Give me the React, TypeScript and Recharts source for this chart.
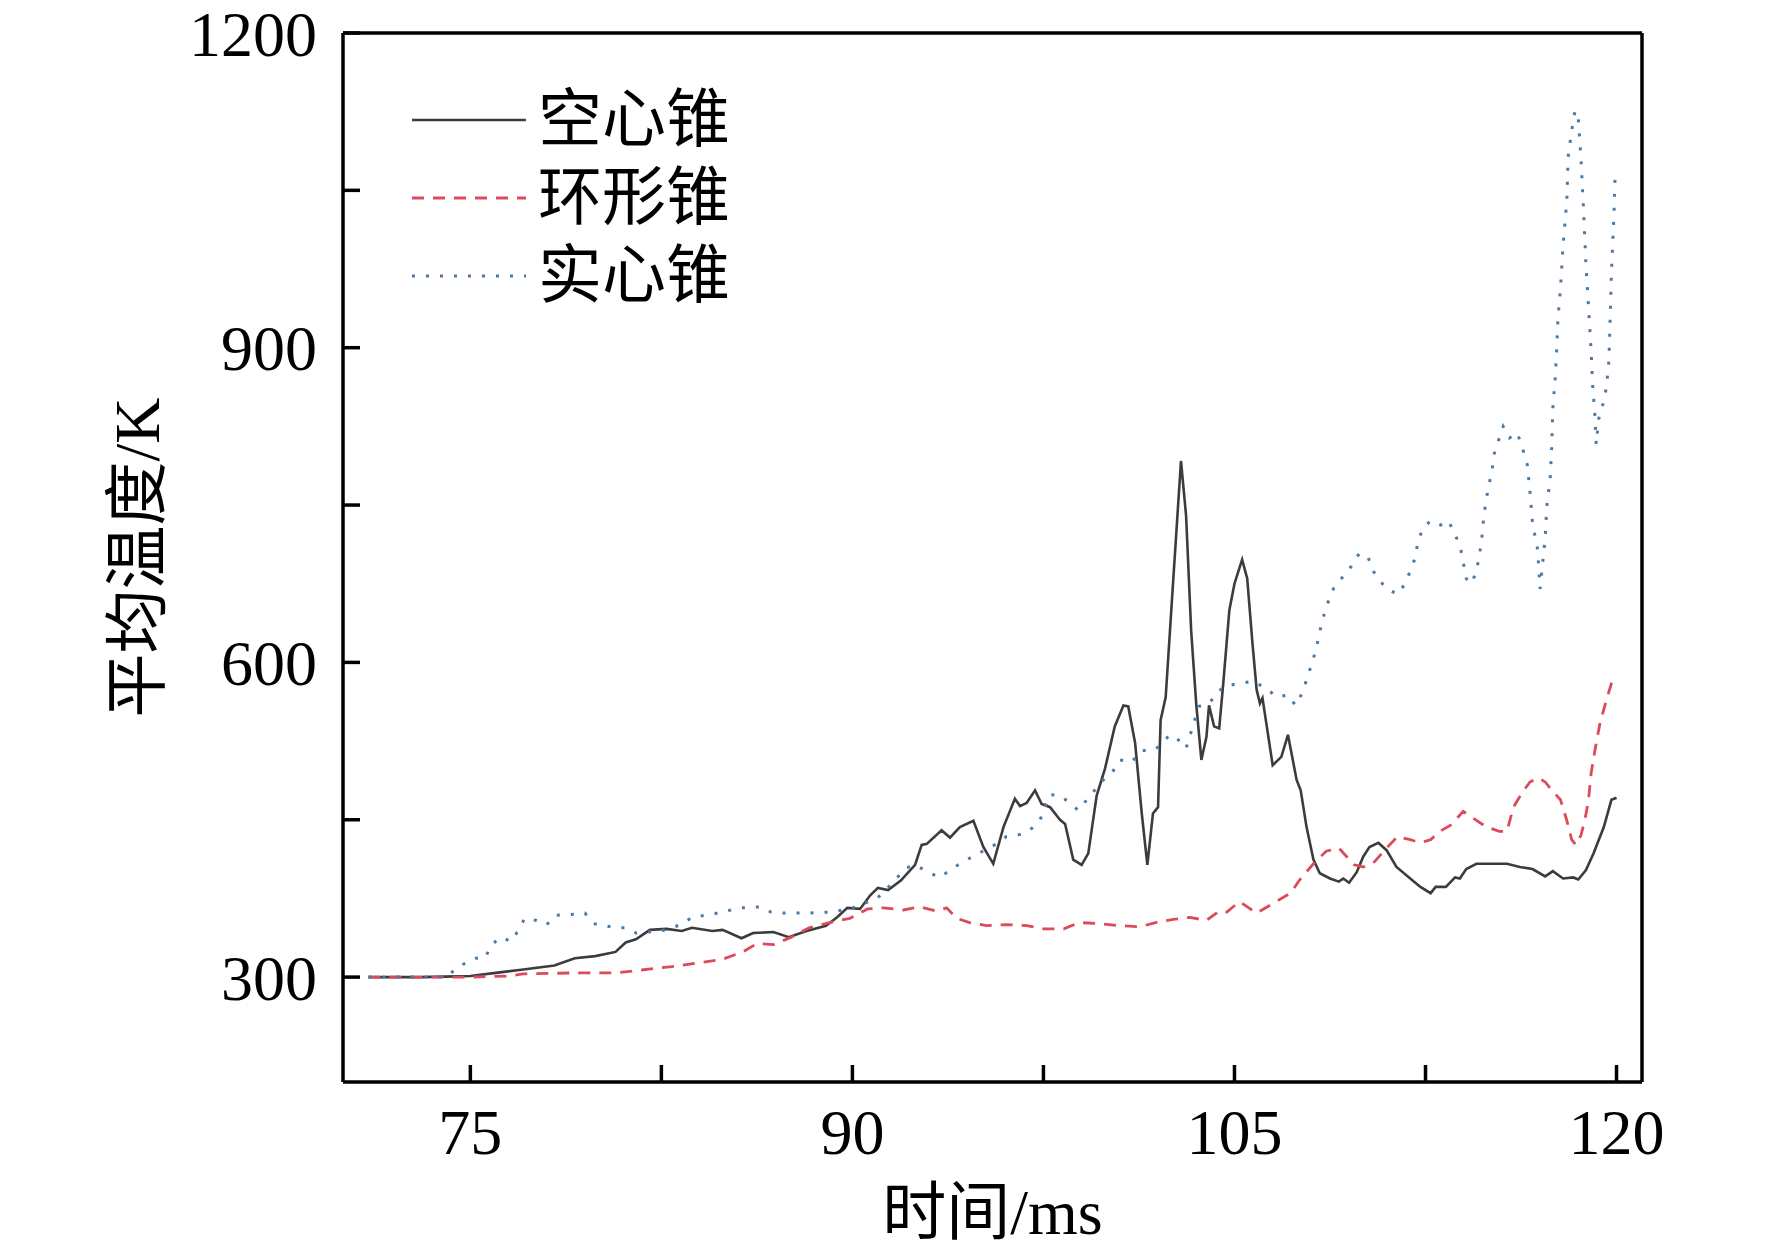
import React from "react";
import {
  LineChart,
  Line,
  XAxis,
  YAxis,
  Legend,
  Label,
  ReferenceLine
} from "recharts";

const FONT = "'Liberation Serif', 'Noto Sans CJK SC', serif";

// 时间 (ms) / 平均温度 (K)
const HOLLOW_T = [
  71, 73, 74, 75, 76, 77, 78.3, 79.1, 79.9, 80.7, 81.1, 81.5, 82.05, 82.7, 83.3, 83.7,
  84.5, 84.9, 85.65, 86.1, 86.9, 87.5, 88.2, 88.96, 89.4, 89.8, 90.3, 90.7, 91.0, 91.4,
  91.9, 92.46, 92.72, 92.92, 93.5, 93.83, 94.22, 94.75, 95.14, 95.53, 95.93, 96.38, 96.58,
  96.84, 97.17, 97.43, 97.76, 98.15, 98.35, 98.67, 99.0, 99.26, 99.59, 99.92, 100.3,
  100.64, 100.83, 101.1, 101.36, 101.58, 101.8, 102.0, 102.1, 102.3, 102.6, 102.9, 103.1,
  103.3, 103.5, 103.7, 103.9, 104.0, 104.2, 104.4, 104.56, 104.8, 105.0, 105.3, 105.5,
  105.7, 105.87, 106.0, 106.1, 106.5, 106.84, 107.1, 107.44, 107.6, 107.83, 108.1, 108.35,
  108.75, 109.1, 109.27, 109.5, 109.8, 110.06, 110.3, 110.65, 110.97, 111.36, 111.9, 112.3,
  112.7, 112.9, 113.3, 113.66, 113.85, 114.1, 114.5, 115.0, 115.7, 116.2, 116.7, 117.2,
  117.5, 117.9, 118.3, 118.5, 118.8, 119.1, 119.5, 119.8, 120.0
];
const HOLLOW_K = [
  300, 300, 300.5, 301, 304, 307, 311, 318, 320, 324, 333, 336, 345, 346, 344, 347,
  344, 345, 337, 342, 343, 338, 344, 349, 357, 366, 365, 378, 385, 383,
  392, 407, 426, 427, 440, 433, 443, 449, 424, 408, 443, 470, 463,
  466, 478, 465, 462, 450, 446, 412, 407, 418, 473, 499, 539,
  559, 558, 523, 456, 407, 456, 462, 545, 567, 680, 792, 740,
  630, 560, 507, 529, 559, 539, 537, 580, 650, 675, 698, 680,
  620, 574, 561, 566, 502, 510, 531, 488, 478, 443, 412, 399,
  394, 391, 394, 390, 400, 415, 424, 428, 421, 405, 394, 386,
  380, 386, 386, 395, 394, 403, 408, 408, 408, 405, 403, 396,
  401, 394, 395, 393, 402, 418, 443, 469, 471
];

const RING_T = [
  71, 75, 76.5, 77.06, 79.1, 80.7, 81.8, 82.9, 84.1, 84.9, 85.7, 86.25, 86.9, 87.6, 88.3,
  89.1, 89.9, 90.6, 91.2, 92.0, 92.65, 93.3, 93.7, 94.1, 94.6, 95.26, 96.05, 96.84, 97.5,
  98.3, 98.9, 99.7, 100.5, 101.3, 102.07, 102.6, 103.25, 103.9, 104.4, 104.7, 105.2,
  105.87, 106.5, 107.2, 107.57, 108.1, 108.6, 109.1, 109.4, 109.7, 110.06, 110.5, 110.97,
  111.4, 111.9, 112.3, 112.7, 113.07, 113.5, 113.98, 114.4, 114.9, 115.4, 115.7, 115.95,
  116.3, 116.6, 116.93, 117.2, 117.5, 117.8, 118.04, 118.24, 118.4, 118.6, 118.76, 118.9,
  119.0, 119.15, 119.35, 119.6, 119.8, 120.0
];
const RING_K = [
  300, 300, 301, 303, 304, 304, 307, 310, 314, 317, 324, 332, 331, 338, 347,
  352, 356, 365, 366, 364, 367, 363, 366, 356, 352, 349, 350, 349, 346,
  346, 352, 351, 349, 348, 353, 355, 357, 354, 363, 362, 372,
  361, 370, 380, 393, 408, 420, 423, 415, 407, 405, 410, 423,
  434, 431, 428, 431, 439, 445, 458, 451, 443, 439, 439, 462,
  476, 486, 490, 486, 477, 469, 450, 431, 426, 435, 450, 469,
  494, 516, 542, 564, 580, 586
];

const SOLID_T = [
  71, 74, 74.7, 75.2, 75.57, 75.84, 76.2, 76.6, 76.9, 77.13, 77.6, 78.0, 78.35, 79.16,
  79.5, 79.84, 80.7, 81.1, 81.5, 82.5, 83.27, 83.7, 84.5, 85.6, 86.4, 86.8, 87.3, 88.2,
  89.1, 89.9, 90.97, 91.5, 92.1, 92.46, 92.98, 93.44, 93.83, 94.35, 94.8, 95.66, 96.05,
  96.58, 96.97, 97.37, 97.76, 98.15, 98.54, 98.87, 99.2, 99.85, 100.25, 100.5, 100.96,
  101.36, 101.8, 102.1, 102.46, 102.8, 103.1, 103.3, 103.6, 104.0, 104.56, 105.2, 105.74,
  106.26, 106.66, 107.1, 107.4, 107.64, 107.83, 108.2, 108.4, 108.6, 108.9, 109.27, 109.6,
  109.9, 110.25, 110.45, 110.7, 111.0, 111.4, 111.7, 111.9, 112.1, 112.2, 112.4, 112.7,
  113.1, 113.4, 113.7, 113.9, 114.0, 114.1, 114.3, 114.5, 114.6, 114.7, 114.8, 114.96,
  115.1, 115.2, 115.4, 115.55, 115.8, 116.1, 116.3, 116.5, 116.6, 116.7, 116.9, 117.0,
  117.1, 117.2, 117.26, 117.4, 117.45, 117.5, 117.6, 117.65, 117.7, 117.8, 117.9, 118.05,
  118.1, 118.24, 118.37, 118.5, 118.6, 118.7, 118.8, 118.9, 119.0, 119.06, 119.15, 119.2,
  119.3, 119.5, 119.6, 119.7, 119.75, 119.8, 119.9, 119.95
];
const SOLID_K = [
  300, 300, 312, 318, 318, 331, 338, 334, 345, 356, 354, 350, 359, 360,
  361, 351, 347, 347, 342, 344, 350, 357, 360, 366, 367, 362, 361, 361,
  362, 365, 375, 388, 404, 407, 400, 395, 402, 410, 416, 427, 434,
  436, 440, 450, 474, 473, 466, 459, 469, 488, 497, 507, 505,
  516, 516, 521, 531, 526, 518, 534, 558, 561, 577, 580, 582,
  575, 567, 569, 559, 570, 583, 612, 635, 653, 671, 682, 692,
  704, 700, 687, 678, 670, 665, 675, 687, 700, 715, 728, 735,
  731, 735, 720, 706, 693, 680, 675, 687, 700, 715, 742, 766,
  781, 799, 814, 825, 814, 819, 805, 788, 763, 733, 708, 670,
  695, 719, 748, 777, 803, 843, 873, 898, 928, 957, 997, 1041,
  1082, 1107, 1126, 1118, 1082, 1034, 979, 939, 898, 865, 836, 808,
  832, 849, 862, 887, 928, 972, 1027, 1069
];

const X_TICKS = [75, 82.5, 90, 97.5, 105, 112.5, 120];
const Y_TICKS = [300, 450, 600, 750, 900, 1050, 1200];
const X_LABELS = [75, 90, 105, 120];
const Y_LABELS = [300, 600, 900, 1200];

const SERIES = [
  { key: "hollow", name: "空心锥", t: HOLLOW_T, k: HOLLOW_K, color: "#3c3c3c", width: 2.6, dash: undefined },
  { key: "ring", name: "环形锥", t: RING_T, k: RING_K, color: "#dc4a5c", width: 2.8, dash: "12 9" },
  { key: "solid", name: "实心锥", t: SOLID_T, k: SOLID_K, color: "#4a7aa6", width: 3, dash: "3 11" }
];

function LegendBox() {
  return (
    <div style={{ fontFamily: FONT, fontSize: 64, color: "#000" }}>
      {SERIES.map((s) => (
        <div key={s.key} style={{ display: "flex", alignItems: "center", height: 78 }}>
          <svg width={114} height={10} style={{ marginRight: 12 }}>
            <line x1={0} x2={114} y1={5} y2={5} stroke={s.color} strokeWidth={s.width} strokeDasharray={s.dash} />
          </svg>
          <span style={{ lineHeight: "78px" }}>{s.name}</span>
        </div>
      ))}
    </div>
  );
}

const renderYTitle = (props: any) => {
  const { x, y, height } = props.viewBox;
  const cx = x + 137;
  const cy = y + height / 2;
  return (
    <text
      x={cx}
      y={cy}
      textAnchor="middle"
      dominantBaseline="central"
      transform={`rotate(-90, ${cx}, ${cy})`}
      fontFamily={FONT}
      fontSize={64}
      fill="#000"
    >
      平均温度/K
    </text>
  );
};

const renderXTitle = (props: any) => {
  const { x, y, width } = props.viewBox;
  return (
    <text x={x + width / 2} y={y + 152} textAnchor="middle" fontFamily={FONT} fontSize={64} fill="#000">
      时间/ms
    </text>
  );
};

export default function App() {
  const tickStyle = { fontFamily: FONT, fontSize: 64, fill: "#000" };
  return (
    <div style={{ position: "absolute", left: 0, top: 0, background: "#fff" }}>
      <LineChart width={1772} height={1258} margin={{ top: 33, right: 130, left: 0, bottom: 0 }}>
        <XAxis
          dataKey="t"
          type="number"
          domain={[70, 121]}
          ticks={X_TICKS}
          interval={0}
          allowDataOverflow
          height={176}
          tickSize={-17}
          tickMargin={44}
          tick={tickStyle}
          tickFormatter={(v: number) => (X_LABELS.includes(v) ? String(v) : "")}
          axisLine={{ stroke: "#000", strokeWidth: 3.5 }}
          tickLine={{ stroke: "#000", strokeWidth: 3.5 }}
        >
          <Label content={renderXTitle} />
        </XAxis>
        <YAxis
          type="number"
          domain={[200, 1200]}
          ticks={Y_TICKS}
          interval={0}
          allowDataOverflow
          width={343}
          tickSize={-17}
          tickMargin={43}
          tick={tickStyle}
          tickFormatter={(v: number) => (Y_LABELS.includes(v) ? String(v) : "")}
          axisLine={{ stroke: "#000", strokeWidth: 3.5 }}
          tickLine={{ stroke: "#000", strokeWidth: 3.5 }}
        >
          <Label content={renderYTitle} />
        </YAxis>
        <ReferenceLine y={1200} stroke="#000" strokeWidth={3.5} />
        <ReferenceLine x={121} stroke="#000" strokeWidth={3.5} />
        <Legend
          layout="vertical"
          align="center"
          verticalAlign="middle"
          content={() => <LegendBox />}
          wrapperStyle={{ left: 412, top: 81, width: 420, height: 240 }}
        />
        {SERIES.map((s) => (
          <Line
            key={s.key}
            data={s.t.map((t, i) => ({ t, v: s.k[i] }))}
            dataKey="v"
            name={s.name}
            type="linear"
            stroke={s.color}
            strokeWidth={s.width}
            strokeDasharray={s.dash}
            dot={false}
            activeDot={false}
            isAnimationActive={false}
          />
        ))}
      </LineChart>
    </div>
  );
}
